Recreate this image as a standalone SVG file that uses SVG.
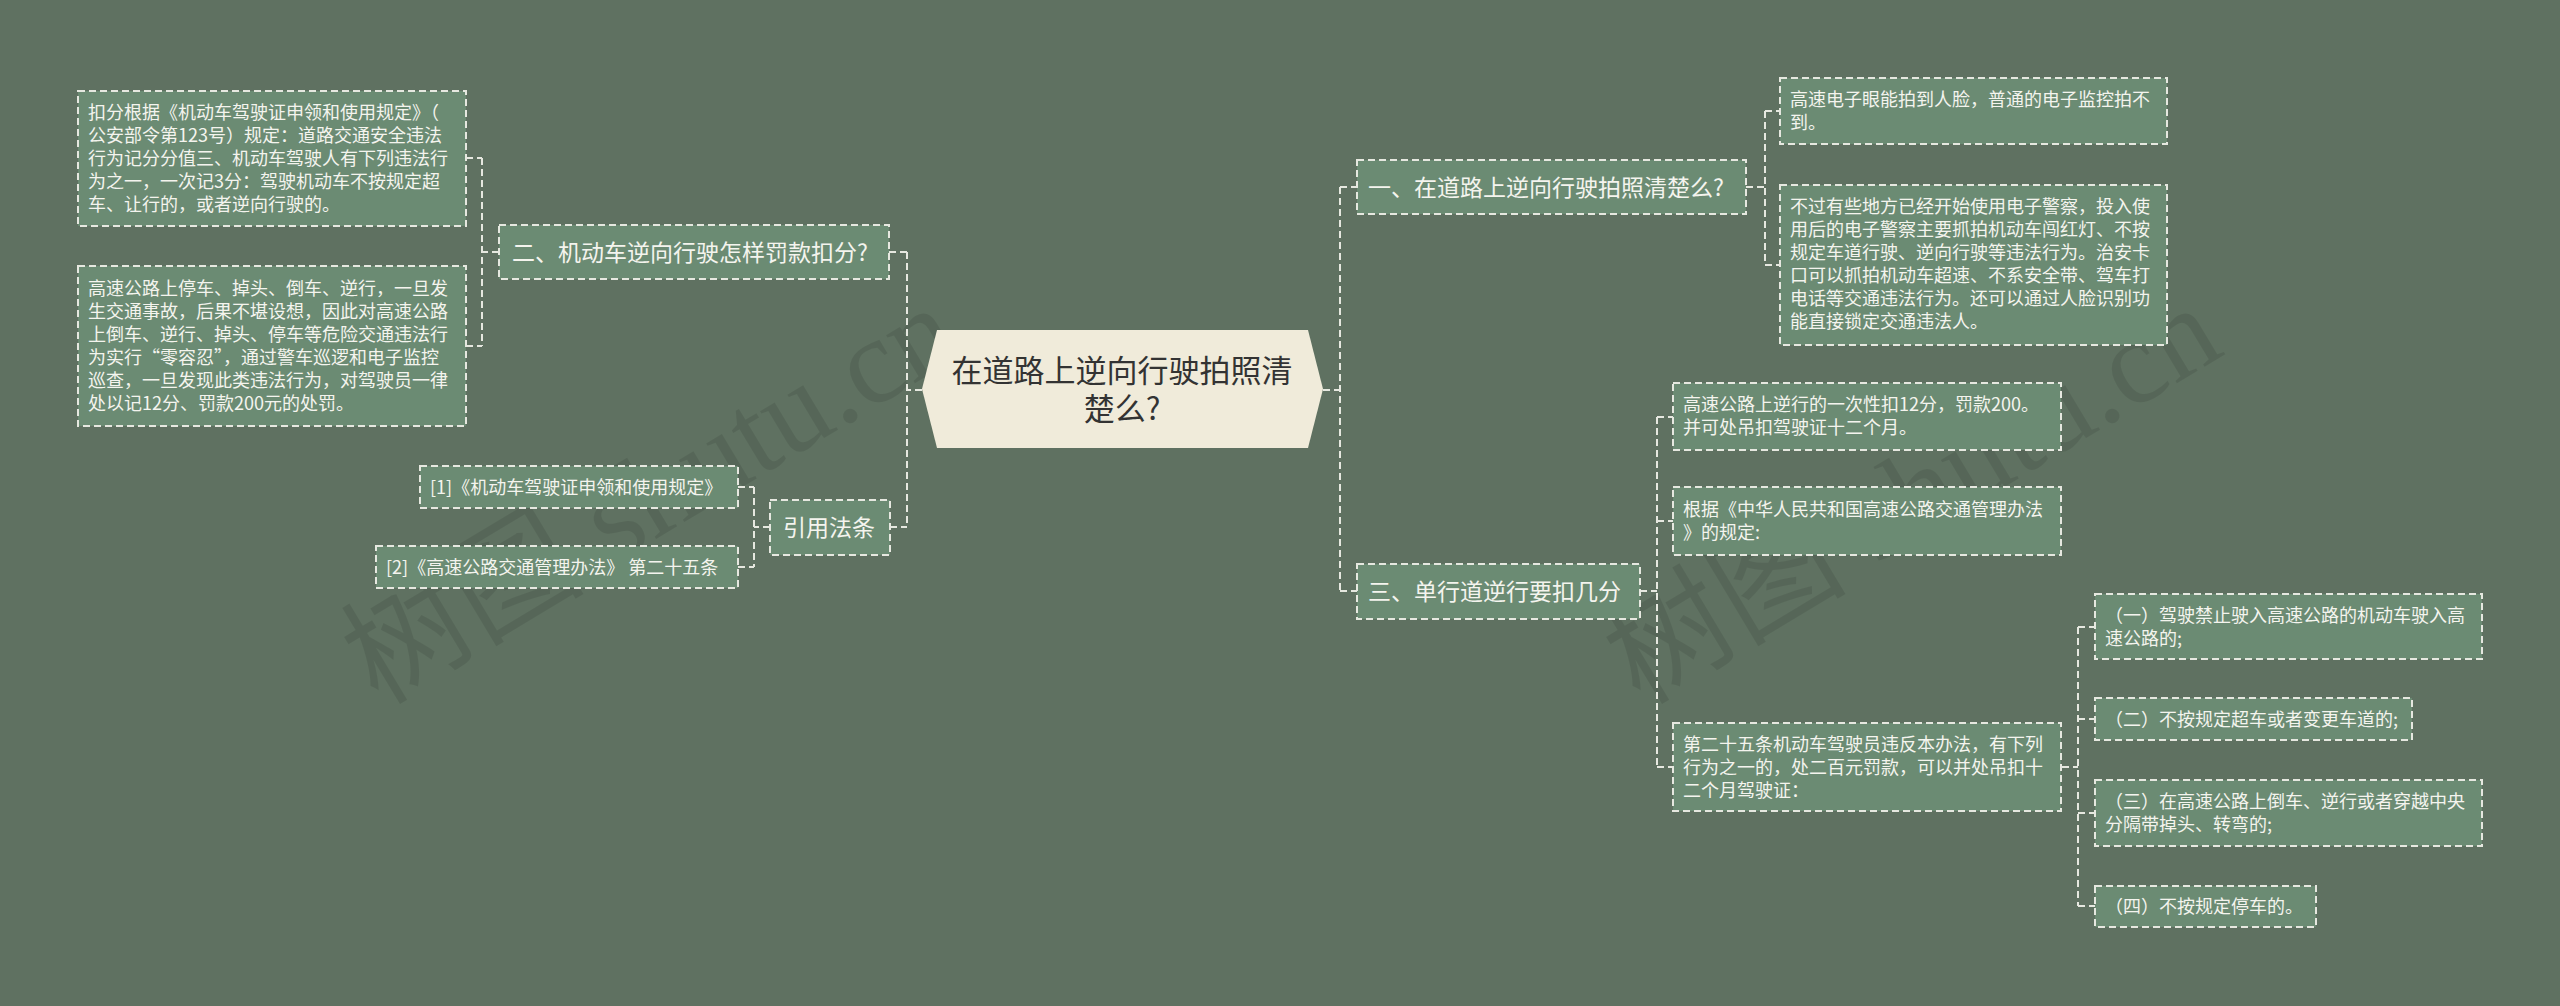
<svg xmlns="http://www.w3.org/2000/svg" width="2560" height="1006" viewBox="0 0 2560 1006">
<defs>
<style>
.bg{fill:#5f7161}
.box{fill:#6b8b73;stroke:#e6e8e0;stroke-width:2;stroke-dasharray:7 4}
.t{font-family:"Noto Sans CJK SC","Liberation Sans",sans-serif;fill:#f4f4ee}
.s{font-size:18px}
.m{font-size:23px}
.c{font-size:31px;fill:#333333;text-anchor:middle}
.ln{fill:none;stroke:#e6e8e0;stroke-width:2;stroke-dasharray:7 4}
.wm{font-family:"Liberation Serif","Noto Sans CJK SC",serif;font-size:122px;fill:#000000;fill-opacity:0.09}
</style>
</defs>
<rect class="bg" x="0" y="0" width="2560" height="1006"/>
<text class="wm" transform="translate(378,706) rotate(-31)">树图 shutu.cn</text>
<text class="wm" transform="translate(1640,706) rotate(-31)">树图 shutu.cn</text>

<g id="connectors">
<path class="ln" d="M922,390 H907 M907,252 V527 M889,252 H907 M890,527 H907"/>
<path class="ln" d="M499,252 H482 M482,158 V346 M466,158 H482 M466,346 H482"/>
<path class="ln" d="M770,527 H754 M754,487 V567 M738,487 H754 M738,567 H754"/>
<path class="ln" d="M1323,390 H1340 M1340,187 V591 M1340,187 H1357 M1340,591 H1357"/>
<path class="ln" d="M1746,187 H1765 M1765,111 V265 M1765,111 H1780 M1765,265 H1780"/>
<path class="ln" d="M1640,591 H1657 M1657,417 V767 M1657,417 H1673 M1657,521 H1673 M1657,767 H1673"/>
<path class="ln" d="M2062,767 H2078 M2078,627 V906 M2078,627 H2095 M2078,719 H2095 M2078,813 H2095 M2078,906 H2095"/>
</g>

<g id="center">
<polygon points="937,330 1308,330 1323,389 1308,448 937,448 922,389" fill="#f0ebda"/>
<text class="t c" x="1122" y="382">在道路上逆向行驶拍照清</text>
<text class="t c" x="1122" y="420">楚么?</text>
</g>

<g id="n2">
<rect class="box" x="499" y="225" width="390" height="54"/>
<text class="t m" x="512" y="261">二、机动车逆向行驶怎样罚款扣分?</text>
</g>
<g id="n2a">
<rect class="box" x="78" y="91" width="388" height="135"/>
<text class="t s" x="88" y="119">扣分根据《机动车驾驶证申领和使用规定》（</text>
<text class="t s" x="88" y="142">公安部令第123号）规定：道路交通安全违法</text>
<text class="t s" x="88" y="165">行为记分分值三、机动车驾驶人有下列违法行</text>
<text class="t s" x="88" y="188">为之一，一次记3分：驾驶机动车不按规定超</text>
<text class="t s" x="88" y="211">车、让行的，或者逆向行驶的。</text>
</g>
<g id="n2b">
<rect class="box" x="78" y="266" width="388" height="160"/>
<text class="t s" x="88" y="295">高速公路上停车、掉头、倒车、逆行，一旦发</text>
<text class="t s" x="88" y="318">生交通事故，后果不堪设想，因此对高速公路</text>
<text class="t s" x="88" y="341">上倒车、逆行、掉头、停车等危险交通违法行</text>
<text class="t s" x="88" y="364">为实行“零容忍”，通过警车巡逻和电子监控</text>
<text class="t s" x="88" y="387">巡查，一旦发现此类违法行为，对驾驶员一律</text>
<text class="t s" x="88" y="410">处以记12分、罚款200元的处罚。</text>
</g>

<g id="ref">
<rect class="box" x="770" y="500" width="120" height="55"/>
<text class="t m" x="783" y="536">引用法条</text>
</g>
<g id="ref1">
<rect class="box" x="420" y="466" width="318" height="42"/>
<text class="t s" x="430" y="494">[1]《机动车驾驶证申领和使用规定》</text>
</g>
<g id="ref2">
<rect class="box" x="376" y="546" width="362" height="42"/>
<text class="t s" x="386" y="574">[2]《高速公路交通管理办法》 第二十五条</text>
</g>

<g id="n1">
<rect class="box" x="1357" y="160" width="389" height="54"/>
<text class="t m" x="1368" y="196">一、在道路上逆向行驶拍照清楚么?</text>
</g>
<g id="n1a">
<rect class="box" x="1780" y="78" width="387" height="66"/>
<text class="t s" x="1790" y="106">高速电子眼能拍到人脸，普通的电子监控拍不</text>
<text class="t s" x="1790" y="129">到。</text>
</g>
<g id="n1b">
<rect class="box" x="1780" y="185" width="387" height="160"/>
<text class="t s" x="1790" y="213">不过有些地方已经开始使用电子警察，投入使</text>
<text class="t s" x="1790" y="236">用后的电子警察主要抓拍机动车闯红灯、不按</text>
<text class="t s" x="1790" y="259">规定车道行驶、逆向行驶等违法行为。治安卡</text>
<text class="t s" x="1790" y="282">口可以抓拍机动车超速、不系安全带、驾车打</text>
<text class="t s" x="1790" y="305">电话等交通违法行为。还可以通过人脸识别功</text>
<text class="t s" x="1790" y="328">能直接锁定交通违法人。</text>
</g>

<g id="n3">
<rect class="box" x="1357" y="564" width="283" height="55"/>
<text class="t m" x="1368" y="600">三、单行道逆行要扣几分</text>
</g>
<g id="n3a">
<rect class="box" x="1673" y="383" width="388" height="67"/>
<text class="t s" x="1683" y="411">高速公路上逆行的一次性扣12分，罚款200。</text>
<text class="t s" x="1683" y="434">并可处吊扣驾驶证十二个月。</text>
</g>
<g id="n3b">
<rect class="box" x="1673" y="487" width="388" height="68"/>
<text class="t s" x="1683" y="516">根据《中华人民共和国高速公路交通管理办法</text>
<text class="t s" x="1683" y="539">》的规定:</text>
</g>
<g id="n3c">
<rect class="box" x="1673" y="723" width="388" height="88"/>
<text class="t s" x="1683" y="751">第二十五条机动车驾驶员违反本办法，有下列</text>
<text class="t s" x="1683" y="774">行为之一的，处二百元罚款，可以并处吊扣十</text>
<text class="t s" x="1683" y="797">二个月驾驶证：</text>
</g>
<g id="f1">
<rect class="box" x="2095" y="594" width="387" height="65"/>
<text class="t s" x="2105" y="622">（一）驾驶禁止驶入高速公路的机动车驶入高</text>
<text class="t s" x="2105" y="645">速公路的;</text>
</g>
<g id="f2">
<rect class="box" x="2095" y="698" width="317" height="42"/>
<text class="t s" x="2105" y="726">（二）不按规定超车或者变更车道的;</text>
</g>
<g id="f3">
<rect class="box" x="2095" y="780" width="387" height="66"/>
<text class="t s" x="2105" y="808">（三）在高速公路上倒车、逆行或者穿越中央</text>
<text class="t s" x="2105" y="831">分隔带掉头、转弯的;</text>
</g>
<g id="f4">
<rect class="box" x="2095" y="886" width="221" height="41"/>
<text class="t s" x="2105" y="913">（四）不按规定停车的。</text>
</g>
</svg>
